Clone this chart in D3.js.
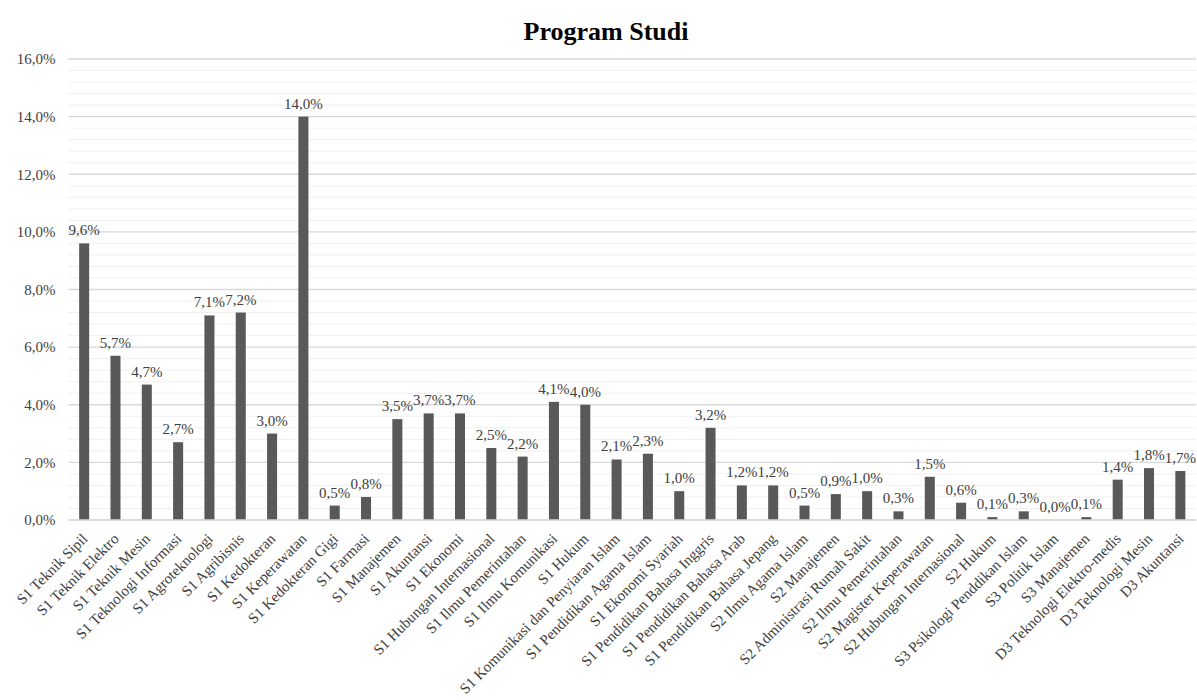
<!DOCTYPE html>
<html><head><meta charset="utf-8">
<script src="https://cdn.jsdelivr.net/npm/d3@7"></script>
<style>body{margin:0;background:#fff}svg{display:block}</style>
</head><body><svg id="c" width="1197" height="700"></svg>
<script>
const categories = ["S1 Teknik Sipil","S1 Teknik Elektro","S1 Teknik Mesin","S1 Teknologi Informasi","S1 Agroteknologi","S1 Agribisnis","S1 Kedokteran","S1 Keperawatan","S1 Kedokteran Gigi","S1 Farmasi","S1 Manajemen","S1 Akuntansi","S1 Ekonomi","S1 Hubungan Internasional","S1 Ilmu Pemerintahan","S1 Ilmu Komunikasi","S1 Hukum","S1 Komunikasi dan Penyiaran Islam","S1 Pendidikan Agama Islam","S1 Ekonomi Syariah","S1 Pendidikan Bahasa Inggris","S1 Pendidikan Bahasa Arab","S1 Pendidikan Bahasa Jepang","S2 Ilmu Agama Islam","S2 Manajemen","S2 Administrasi Rumah Sakit","S2 Ilmu Pemerintahan","S2 Magister Keperawatan","S2 Hubungan Internasional","S2 Hukum","S3 Psikologi Penddikan Islam","S3 Politik Islam","S3 Manajemen","D3 Teknologi Elektro-medis","D3 Teknologi Mesin","D3 Akuntansi"];
const values = [9.6,5.7,4.7,2.7,7.1,7.2,3.0,14.0,0.5,0.8,3.5,3.7,3.7,2.5,2.2,4.1,4.0,2.1,2.3,1.0,3.2,1.2,1.2,0.5,0.9,1.0,0.3,1.5,0.6,0.1,0.3,0.0,0.1,1.4,1.8,1.7];
const yTicks = [0,2,4,6,8,10,12,14,16];
const minorTicks = d3.range(0, 16.01, 0.4);
const title = "Program Studi";

const FONT = "'Liberation Serif', Tinos, 'Times New Roman', serif";
const svg = d3.select("#c");
const L = 68.5, R = 1196, T = 59, B = 520;
const x = d3.scaleBand().domain(categories).range([L, R]).paddingInner(0.68).paddingOuter(0.34);
const y = d3.scaleLinear().domain([0, 16]).range([B, T]);
const fmt = v => v.toFixed(1).replace(".", ",") + "%";

svg.append("text").attr("x", 606).attr("y", 40).attr("text-anchor", "middle")
  .style("font-family", FONT)
  .attr("font-size", 26).attr("font-weight", "bold").attr("fill", "#000").text(title);

svg.append("g").selectAll("line").data(minorTicks.filter(t => Math.abs(t/2 - Math.round(t/2)) > 1e-6))
  .join("line").attr("x1", L).attr("x2", R).attr("y1", d => y(d)).attr("y2", d => y(d))
  .attr("stroke", "#f0f0f0").attr("stroke-width", 1);
svg.append("g").selectAll("line").data(yTicks)
  .join("line").attr("x1", L).attr("x2", R).attr("y1", d => y(d)).attr("y2", d => y(d))
  .attr("stroke", "#d9d9d9").attr("stroke-width", 1.3);

const yAxis = svg.append("g").attr("transform", `translate(${L},0)`)
  .call(d3.axisLeft(y).tickValues(yTicks).tickFormat(fmt).tickSize(0).tickPadding(13));
yAxis.select(".domain").remove();
yAxis.selectAll("text").attr("font-size", 15).attr("fill", "#404040").style("font-family", FONT);

svg.append("g").selectAll("rect").data(values).join("rect")
  .attr("x", (d, i) => x(categories[i])).attr("width", x.bandwidth())
  .attr("y", d => y(d)).attr("height", d => B - y(d)).attr("fill", "#595959");

svg.append("g").selectAll("text").data(values).join("text")
  .attr("x", (d, i) => x(categories[i]) + x.bandwidth() / 2).attr("y", d => y(d) - 8)
  .attr("text-anchor", "middle").attr("font-size", 15).attr("fill", "#404040")
  .style("font-family", FONT).text(fmt);

const xAxis = svg.append("g").attr("transform", `translate(0,${B})`)
  .call(d3.axisBottom(x).tickSize(0).tickPadding(0));
xAxis.select(".domain").attr("stroke", "#d9d9d9").attr("stroke-width", 1.3).attr("d", `M${L},0H${R}`);
xAxis.selectAll("text").attr("font-size", 15).attr("fill", "#404040").style("font-family", FONT)
  .attr("text-anchor", "end").attr("dy", "0.35em")
  .attr("transform", "translate(0.5,16) rotate(-45)").attr("y", 0).attr("x", 0);
</script></body></html>
